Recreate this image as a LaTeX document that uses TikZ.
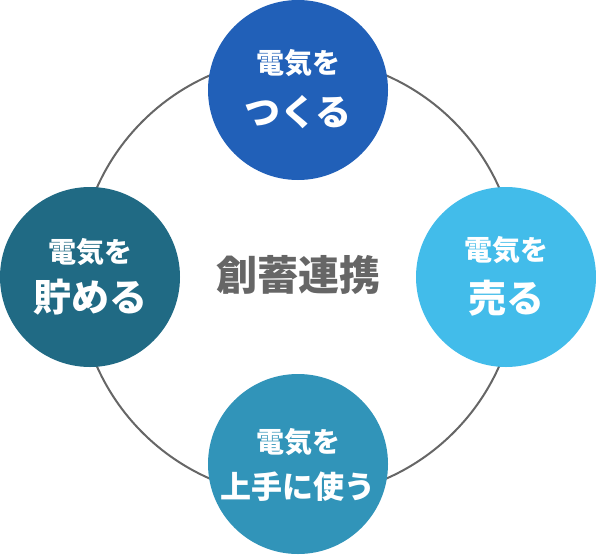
\documentclass[tikz,border=0pt]{standalone}
\usepackage{fontspec}
\newfontfamily\cjk{Noto Sans CJK JP}
\definecolor{cTop}{HTML}{2160B8}
\definecolor{cRight}{HTML}{42BCEA}
\definecolor{cBottom}{HTML}{3194B9}
\definecolor{cLeft}{HTML}{206A84}
\definecolor{cLine}{HTML}{666666}
\definecolor{cText}{HTML}{666666}
\tikzset{
  bubble/.style={circle, minimum size=180pt, inner sep=0pt, draw=none},
  small/.style={text=white, inner sep=0pt, font=\cjk\bfseries\fontsize{28pt}{30pt}\selectfont},
  big/.style={text=white, inner sep=0pt, font=\cjk\bfseries\fontsize{38pt}{40pt}\selectfont},
}
\begin{document}
\begin{tikzpicture}[x=1pt,y=-1pt]
\useasboundingbox (0,0) rectangle (596,554);
\coordinate (O) at (298,277);
\draw[cLine, line width=2pt] (O) circle (220pt);
\node[bubble, fill=cTop] (top) at (298,90) {};
\node[bubble, fill=cLeft] (left) at (90,277) {};
\node[bubble, fill=cRight] (right) at (506,277) {};
\node[bubble, fill=cBottom] (bottom) at (298,464) {};
\node[small] (t1) at (298,63) {電気を};
\node[big, font=\cjk\bfseries\fontsize{36pt}{38pt}\selectfont] (t2) at (298,112) {つくる};
\node[small] (l1) at (90,252) {電気を};
\node[big] (l2) at (90,297) {貯める};
\node[small] (r1) at (506,250) {電気を};
\node[big] (r2) at (506,298) {売る};
\node[small] (b1) at (298,442) {電気を};
\node[big, font=\cjk\bfseries\fontsize{31pt}{33pt}\selectfont] (b2) at (298,487) {上手に使う};
\node[inner sep=0pt, text=cText, font=\cjk\bfseries\fontsize{41pt}{43pt}\selectfont] (ctr) at (298,275) {創蓄連携};
\end{tikzpicture}
\end{document}
